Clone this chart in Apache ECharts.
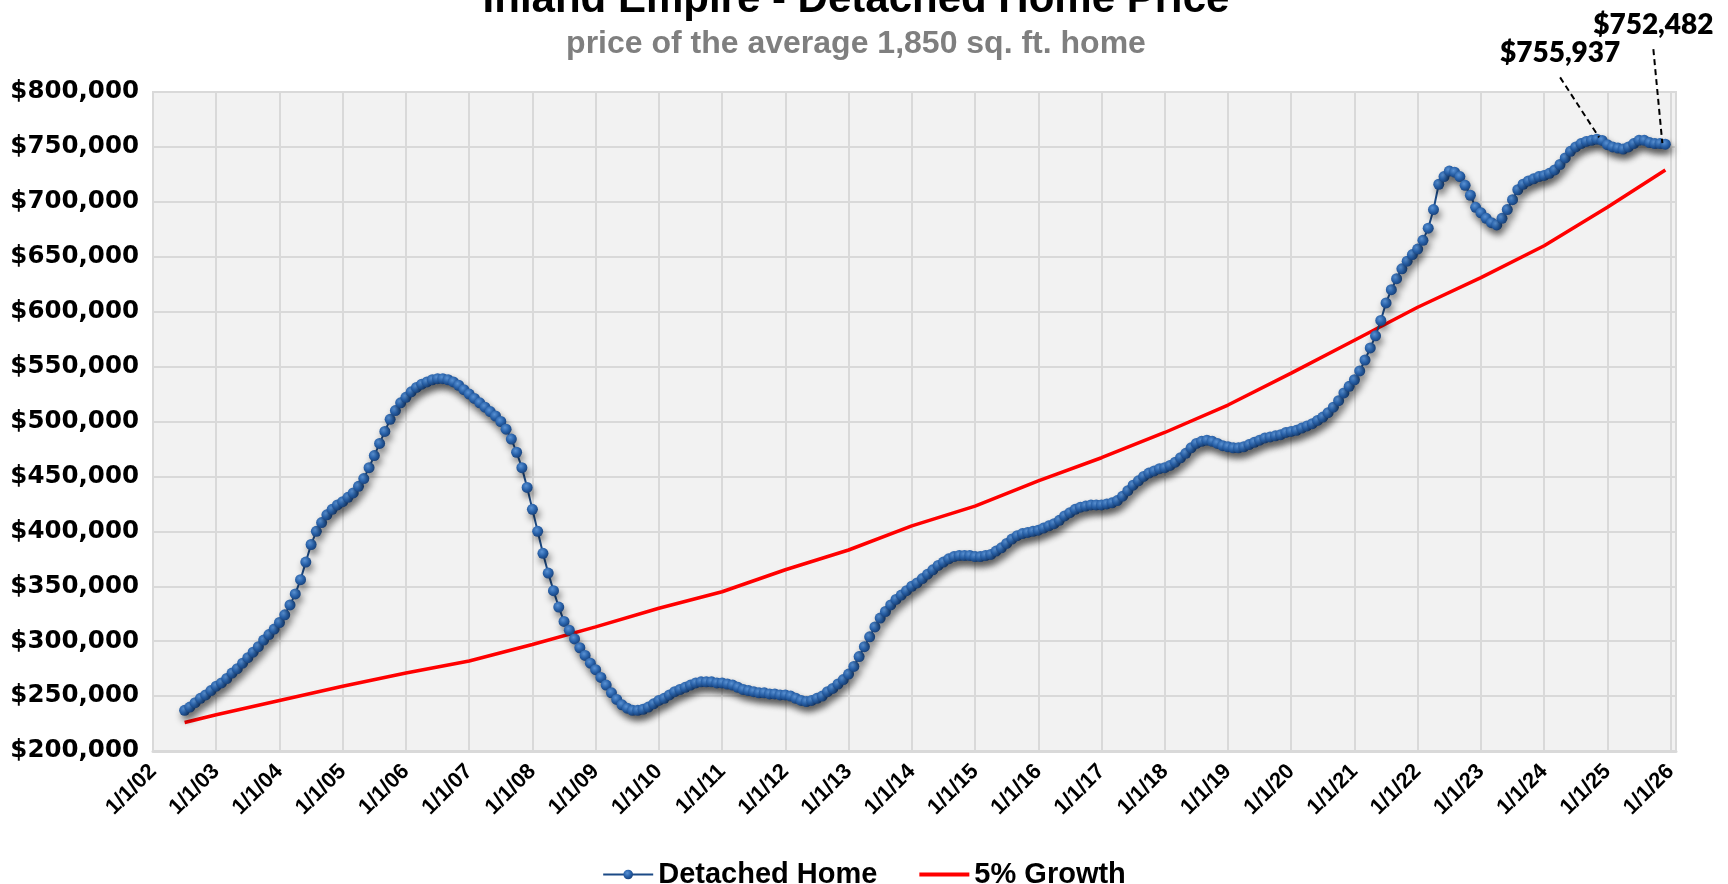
<!DOCTYPE html>
<html>
<head>
<meta charset="utf-8">
<title>Inland Empire - Detached Home Price</title>
<script src="https://cdn.jsdelivr.net/npm/echarts@6/dist/echarts.min.js"></script>
<style>
  html, body { margin: 0; padding: 0; background: #fff; }
  #chart { width: 1728px; height: 884px; }
</style>
</head>
<body>
<div id="chart"></div>
<script>
// monthly average price, $1,000s, Jul 2002 .. Dec 2025
const startYear = 2002
const startMonth = 7
const detachedHome = [
  237, 240, 244, 248, 251, 255,                               // 2002 (Jul-Dec)
  259, 262, 266, 271, 275, 280, 285, 290, 295, 301, 306, 311, // 2003
  317, 324, 333, 343, 356, 372, 388, 400, 408, 415, 420, 424, // 2004
  427, 431, 435, 441, 448, 458, 469, 480, 491, 502, 510, 517, // 2005
  522, 527, 531, 534, 536, 538, 539, 539, 538, 536, 533, 529, // 2006
  525, 521, 517, 513, 509, 505, 500, 493, 484, 472, 458, 440, // 2007
  420, 400, 380, 362, 346, 331, 318, 310, 302, 294, 287, 280, // 2008
  274, 267, 260, 253, 247, 242, 239, 237, 237, 238, 240, 243, // 2009
  246, 248, 251, 254, 256, 258, 260, 262, 263, 263, 263, 262, // 2010
  262, 261, 260, 258, 256, 255, 254, 253, 253, 252, 252, 251, // 2011
  251, 250, 248, 246, 245, 246, 248, 250, 254, 257, 261, 265, // 2012
  270, 277, 286, 295, 304, 313, 321, 327, 333, 338, 342, 346, // 2013
  350, 353, 357, 361, 365, 369, 372, 375, 377, 378, 378, 378, // 2014
  377, 377, 378, 379, 382, 385, 389, 393, 396, 398, 399, 400, // 2015
  401, 403, 405, 407, 410, 414, 417, 420, 422, 423, 424, 424, // 2016
  424, 425, 426, 428, 432, 437, 442, 446, 450, 453, 455, 457, // 2017
  458, 460, 463, 467, 471, 476, 480, 482, 483, 482, 480, 478, // 2018
  477, 476, 476, 477, 479, 481, 483, 485, 486, 487, 488, 490, // 2019
  491, 492, 494, 496, 498, 501, 504, 508, 513, 519, 526, 532, // 2020
  538, 546, 556, 567, 578, 592, 608, 620, 630, 639, 646, 652, // 2021
  657, 665, 676, 693, 716, 723, 728, 727, 723, 715, 706, 695, // 2022
  690, 685, 681, 679, 685, 693, 702, 711, 716, 719, 721, 723, // 2023
  724, 726, 729, 734, 740, 746, 750, 753, 755, 756, 757, 755.937, // 2024
  752, 750, 749, 748, 750, 753, 756, 756, 754, 753, 753, 752.482  // 2025
]

// 5% growth trend, $1,000s, read at the start of each year
const growthDates = [2002.5, 2003, 2004, 2005, 2006, 2007, 2008, 2009, 2010, 2011, 2012, 2013,
  2014, 2015, 2016, 2017, 2018, 2019, 2020, 2021, 2022, 2023, 2024, 2025, 2025.917]
const growth5 = [226, 233, 246, 259, 271, 282, 297, 313, 330, 345, 365, 383,
  405, 423, 446, 467, 490, 515, 544, 574, 604, 631, 660, 695, 729]

// months that get a callout (index into detachedHome)
const calloutIndex = [269, 281]

const yearTicks = [2002, 2026]

const SANS = "'Liberation Sans', Arial, sans-serif"
const WIDE = "'DejaVu Sans', Verdana, sans-serif"
const CALLOUT = "Lato, 'Open Sans', sans-serif"

const homePoints = detachedHome.map((v, i) => [startYear + (startMonth - 1 + i) / 12, Math.round(v * 1000)])
const growthPoints = growth5.map((v, i) => [growthDates[i], v * 1000])

const chart = echarts.init(document.getElementById('chart'))

const option = {
  backgroundColor: '#ffffff',
  animation: false,
  grid: {
    left: 153,
    right: 52,
    top: 92,
    bottom: 133,
    show: true,
    backgroundColor: '#f2f2f2',
    borderColor: '#d9d9d9',
    borderWidth: 2,
    outerBoundsMode: 'none'
  },
  xAxis: {
    type: 'value',
    min: yearTicks[0],
    max: yearTicks[1] + 0.085,
    interval: 1,
    axisLine: { show: true, lineStyle: { color: '#d9d9d9', width: 3 } },
    axisTick: { show: false },
    splitLine: { show: true, lineStyle: { color: '#d9d9d9', width: 2 } },
    axisLabel: {
      rotate: 45,
      margin: 17,
      showMaxLabel: false,
      color: '#000',
      fontFamily: SANS,
      fontWeight: 'bold',
      fontSize: 22,
      formatter: v => Number.isInteger(v) ? '1/1/' + String(v).slice(2) : ''
    }
  },
  yAxis: {
    type: 'value',
    min: 200000,
    max: 800000,
    interval: 50000,
    axisLine: { show: false },
    axisTick: { show: false },
    splitLine: { lineStyle: { color: '#d9d9d9', width: 2 } },
    axisLabel: {
      margin: 14,
      color: '#000',
      fontFamily: WIDE,
      fontWeight: 'bold',
      fontSize: 24.5,
      formatter: v => '$' + v.toLocaleString('en-US')
    }
  },
  legend: {
    left: 'center',
    top: 855,
    itemWidth: 50,
    itemHeight: 12,
    itemGap: 42,
    textStyle: { fontFamily: SANS, fontWeight: 'bold', fontSize: 29, color: '#000' },
    data: [
      { name: 'Detached Home' },
      { name: '5% Growth', icon: 'path://M0,0 L50,0 L50,4 L0,4 Z' }
    ]
  },
  series: [
    {
      name: 'Detached Home',
      type: 'line',
      data: homePoints,
      symbol: 'circle',
      symbolSize: 11,
      showAllSymbol: true,
      z: 3,
      lineStyle: { color: '#1b4a86', width: 2 },
      itemStyle: {
        color: {
          type: 'radial', x: 0.4, y: 0.35, r: 0.7,
          colorStops: [
            { offset: 0, color: '#5a92d4' },
            { offset: 0.55, color: '#2760a8' },
            { offset: 1, color: '#163e76' }
          ]
        },
        shadowColor: 'rgba(0,0,0,0.5)',
        shadowBlur: 7,
        shadowOffsetX: 2,
        shadowOffsetY: 5
      }
    },
    {
      name: '5% Growth',
      type: 'line',
      data: growthPoints,
      symbol: 'none',
      z: 2,
      lineStyle: { color: '#ff0000', width: 3.5 },
      itemStyle: { color: '#ff0000' }
    }
  ]
}

chart.setOption(option)

// title, subtitle and the two price callouts
const graphics = [
  {
    type: 'text',
    style: {
      text: 'Inland Empire - Detached Home Price',
      x: 856, y: 0,
      align: 'center', verticalAlign: 'middle',
      font: 'bold 42px ' + SANS,
      fill: '#000'
    }
  },
  {
    type: 'text',
    style: {
      text: 'price of the average 1,850 sq. ft. home',
      x: 856, y: 44,
      align: 'center', verticalAlign: 'middle',
      font: 'bold 32px ' + SANS,
      fill: '#7f7f7f'
    }
  }
]

const calloutOffsets = [
  { label: [-42, -87], lineEnd: [-3, -3] },
  { label: [-12, -119], lineEnd: [-3, -1] }
]

calloutIndex.forEach((idx, k) => {
  const p = chart.convertToPixel({ seriesIndex: 0 }, homePoints[idx])
  const off = calloutOffsets[k]
  const lx = p[0] + off.label[0]
  const ly = p[1] + off.label[1]
  graphics.push({
    type: 'line',
    shape: { x1: lx, y1: ly + 24, x2: p[0] + off.lineEnd[0], y2: p[1] + off.lineEnd[1] },
    style: { stroke: '#000', lineWidth: 2, lineDash: [6, 4] },
    z: 10
  })
  graphics.push({
    type: 'text',
    z: 10,
    style: {
      text: '$' + homePoints[idx][1].toLocaleString('en-US'),
      x: lx, y: ly,
      align: 'center', verticalAlign: 'middle',
      font: '800 28px ' + CALLOUT,
      fill: '#000'
    }
  })
})

chart.setOption({ graphic: graphics })

window.addEventListener('resize', () => {
  chart.resize()
})
</script>
</body>
</html>
